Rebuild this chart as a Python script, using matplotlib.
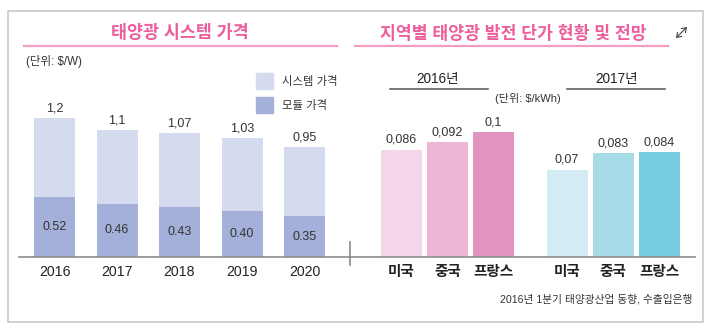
import matplotlib
matplotlib.use('Agg')
import matplotlib.pyplot as plt
import matplotlib.patches as mpatches
from matplotlib.lines import Line2D

plt.rcParams['font.family'] = ['Liberation Sans', 'Noto Sans CJK KR', 'DejaVu Sans']

# 태양광 시스템 가격 ($/W)
years = ['2016', '2017', '2018', '2019', '2020']
system_price = [1.2, 1.1, 1.07, 1.03, 0.95]
system_labels = ['1,2', '1,1', '1,07', '1,03', '0,95']
module_price = [0.52, 0.46, 0.43, 0.40, 0.35]
module_labels = ['0.52', '0.46', '0.43', '0.40', '0.35']

# 지역별 발전 단가 ($/kWh)
countries = ['미국', '중국', '프랑스']
cost_2016 = [0.086, 0.092, 0.1]
cost_2016_labels = ['0,086', '0,092', '0,1']
cost_2017 = [0.07, 0.083, 0.084]
cost_2017_labels = ['0,07', '0,083', '0,084']

W, H = 711, 329
fig = plt.figure(figsize=(W / 100, H / 100), dpi=100)
fig.patch.set_facecolor('white')


def px(x, y):
    return x / W, 1 - y / H


def box(x0, y0, x1, y1):
    return [x0 / W, 1 - y1 / H, (x1 - x0) / W, (y1 - y0) / H]


txt = '#333333'
pink = '#ec5f9c'
axis_gray = '#8c8c8c'

# outer frame
fig.add_artist(mpatches.Rectangle(px(8, 322), (703 - 8) / W, (322 - 11) / H,
                                  transform=fig.transFigure, fill=False,
                                  edgecolor='#c9c9c9', linewidth=1.2))

# titles with pink underline
fig.text(*px(180, 33), '태양광 시스템 가격', color=pink, fontsize=12.5,
         fontweight='bold', ha='center', va='center')
fig.add_artist(Line2D([24 / W, 337 / W], [1 - 46 / H] * 2, color='#f19cc3', lw=1.6))
fig.text(*px(513, 33), '지역별 태양광 발전 단가 현황 및 전망', color=pink, fontsize=12.4,
         fontweight='bold', ha='center', va='center')
fig.add_artist(Line2D([355 / W, 668 / W], [1 - 46 / H] * 2, color='#f19cc3', lw=1.6))

# expand icon: two arrows pointing out from the centre
for end in [(687, 27), (676, 38)]:
    fig.add_artist(mpatches.FancyArrowPatch(px(681.5, 32.5), px(*end), transform=fig.transFigure,
                                            arrowstyle='->,head_length=0.5,head_width=0.35',
                                            mutation_scale=6, color='#444444', lw=0.8,
                                            shrinkA=0, shrinkB=0))

# ---- left chart ----
ax1 = fig.add_axes(box(19, 107, 350, 257))
x1 = list(range(len(years)))
ax1.bar(x1, system_price, width=0.656, color='#d5dbef')
ax1.bar(x1, module_price, width=0.656, color='#a4b0d9')
for i in x1:
    ax1.text(i, system_price[i] + 0.03, system_labels[i], ha='center', va='bottom',
             fontsize=9, color=txt)
    ax1.text(i, module_price[i] / 2, module_labels[i], ha='center', va='center',
             fontsize=9, color=txt)
ax1.set_xlim(-0.568, 4.728)
ax1.set_ylim(0, 1.295)
ax1.set_xticks(x1)
ax1.set_xticklabels(years, fontsize=10.2, color='#222222')
ax1.tick_params(axis='x', length=0, pad=6)
ax1.set_yticks([])
for s in ['top', 'left', 'right']:
    ax1.spines[s].set_visible(False)
ax1.spines['bottom'].set_color(axis_gray)
ax1.spines['bottom'].set_linewidth(1.2)
ax1.patch.set_alpha(0)

fig.text(*px(26, 61), '(단위: $/W)', fontsize=8.3, color=txt, ha='left', va='center')
fig.add_artist(mpatches.Rectangle(px(256, 89), 17 / W, 16 / H, transform=fig.transFigure,
                                  color='#d5dbef'))
fig.add_artist(mpatches.Rectangle(px(256, 113), 17 / W, 16 / H, transform=fig.transFigure,
                                  color='#a4b0d9'))
fig.text(*px(282, 81), '시스템 가격', fontsize=8.2, color=txt, ha='left', va='center')
fig.text(*px(282, 105), '모듈 가격', fontsize=8.2, color=txt, ha='left', va='center')

# divider tick between charts
fig.add_artist(Line2D([350 / W] * 2, [1 - 242 / H, 1 - 265 / H], color=axis_gray, lw=1.2))

# ---- right chart ----
ax2 = fig.add_axes(box(350, 107, 695, 257))
x2 = [0, 1, 2, 3.6, 4.6, 5.6]
ax2.bar(x2[:3], cost_2016, width=0.89, color=['#f3d6e7', '#ecb6d4', '#e294c0'])
ax2.bar(x2[3:], cost_2017, width=0.89, color=['#d3ebf3', '#a7dbe8', '#79cde0'])
for xi, v, lab in zip(x2, cost_2016 + cost_2017, cost_2016_labels + cost_2017_labels):
    ax2.text(xi, v + 0.003, lab, ha='center', va='bottom', fontsize=9, color=txt)
ax2.set_xlim(-1.12, 6.38)
ax2.set_ylim(0, 0.12)
ax2.set_xticks(x2)
ax2.set_xticklabels(countries + countries, fontsize=10.5, fontweight='bold', color='#222222')
ax2.tick_params(axis='x', length=0, pad=6)
ax2.set_yticks([])
for s in ['top', 'left', 'right']:
    ax2.spines[s].set_visible(False)
ax2.spines['bottom'].set_color(axis_gray)
ax2.spines['bottom'].set_linewidth(1.2)
ax2.patch.set_alpha(0)

# group headers
fig.text(*px(438, 79), '2016년', fontsize=9.8, color='#222222', ha='center', va='center')
fig.add_artist(Line2D([390 / W, 488 / W], [1 - 89 / H] * 2, color='#555555', lw=1.1))
fig.text(*px(617, 79), '2017년', fontsize=9.8, color='#222222', ha='center', va='center')
fig.add_artist(Line2D([567 / W, 665 / W], [1 - 89 / H] * 2, color='#555555', lw=1.1))
fig.text(*px(528, 98), '(단위: $/kWh)', fontsize=8, color=txt, ha='center', va='center')

fig.text(*px(692, 299), '2016년 1분기 태양광산업 동향, 수출입은행', fontsize=7.7,
         color=txt, ha='right', va='center')

fig.savefig('out.png', dpi=100, facecolor='white')
